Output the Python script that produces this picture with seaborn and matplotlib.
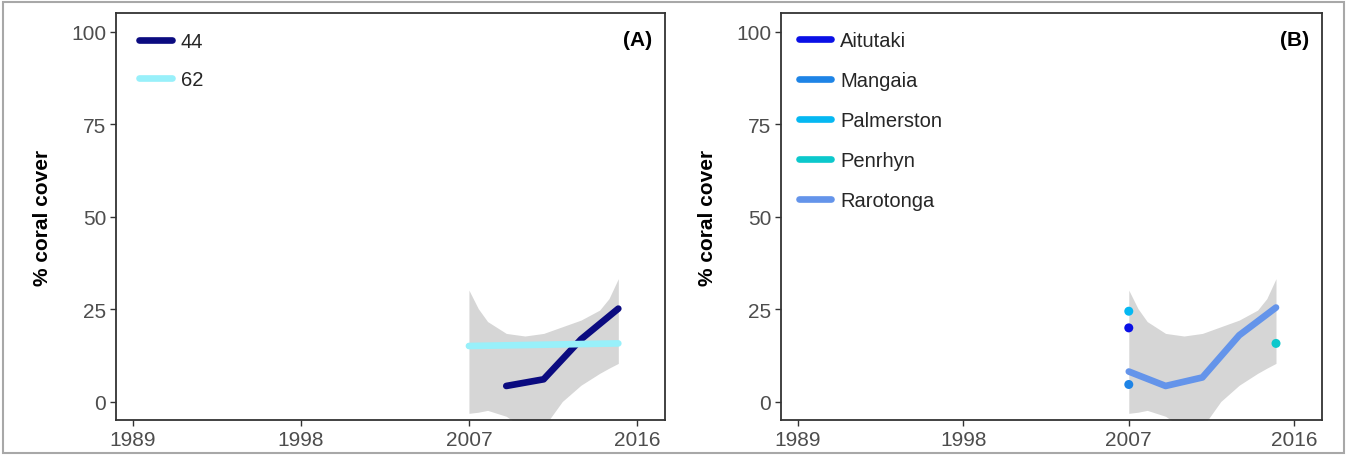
import matplotlib
matplotlib.use("Agg")
import matplotlib.pyplot as plt
from matplotlib.lines import Line2D
from matplotlib.patches import Rectangle
import pandas as pd
import seaborn as sns

# ---- data -------------------------------------------------------------
year_ticks = [1989, 1998, 2007, 2016]
cover_ticks = [0, 25, 50, 75, 100]

# panel A: coral cover by depth group
years_44 = [2009, 2011, 2013, 2015]
cover_44 = [4.2, 6.0, 16.8, 25.1]
years_62 = [2007, 2015]
cover_62 = [15.0, 15.7]

# panel B: coral cover by island
raro_years = [2007, 2009, 2011, 2013, 2015]
raro_cover = [8.1, 4.2, 6.5, 17.9, 25.4]
point_sites = ["Aitutaki", "Mangaia", "Palmerston", "Penrhyn"]
point_years = [2007, 2007, 2007, 2015]
point_cover = [19.9, 4.6, 24.4, 15.7]

# smoothed confidence band (shared by both panels)
band_years = [2007, 2007.5, 2008, 2009, 2010, 2011, 2012, 2013, 2014, 2014.5, 2015]
band_upper = [30.1, 25.1, 21.6, 18.4, 17.7, 18.4, 20.2, 22.0, 24.7, 27.8, 33.2]
band_lower = [-3.2, -2.9, -2.4, -4.0, -7.5, -7.0, 0.0, 4.4, 7.6, 9.0, 10.3]

group_labels = ["44", "62"]
group_colors = ["#0b0b80", "#98f0fa"]
site_labels = ["Aitutaki", "Mangaia", "Palmerston", "Penrhyn", "Rarotonga"]
site_colors = ["#0a10e6", "#1e84e6", "#05b8f2", "#0cc8cc", "#6494ea"]

# ---- style ------------------------------------------------------------
sns.set_theme(style="white")
plt.rcParams["font.family"] = ["Liberation Sans", "DejaVu Sans"]

W, H, DPI = 1346, 456, 100
fig = plt.figure(figsize=(W / DPI, H / DPI), dpi=DPI)

def fx(px):
    return px / W

def fy(py):
    return 1 - py / H

top_px, bot_px = 14, 421
axA = fig.add_axes([fx(116), fy(bot_px), fx(665 - 116), (bot_px - top_px) / H])
axB = fig.add_axes([fx(781), fy(bot_px), fx(1322 - 781), (bot_px - top_px) / H])

# outer frame around the whole figure
fig.patches.append(Rectangle((fx(2.5), fy(453.5)), fx(1341), (451) / H,
                             transform=fig.transFigure, fill=False,
                             edgecolor="#a8a8a8", linewidth=1.5, zorder=0))

LW = 4.8
band_color = "#d6d6d6"
TICK_FS = 15
LEG_FS = 14.5

def style_axes(ax, tag):
    ax.set_xlim(1988.1, 2017.5)
    ax.set_ylim(-5, 105)
    ax.set_xticks(year_ticks)
    ax.set_yticks(cover_ticks)
    ax.tick_params(axis="both", which="major", direction="out", length=4,
                   width=1, color="#333333", labelsize=TICK_FS,
                   labelcolor="#4d4d4d", bottom=True, left=True, pad=3)
    for s in ax.spines.values():
        s.set_visible(True)
        s.set_color("#333333")
        s.set_linewidth(1.3)
    ax.set_xlabel("")
    ax.set_ylabel("% coral cover", fontsize=15, fontweight="bold",
                  color="black", labelpad=14)
    ax.text(0.976, 0.936, tag, transform=ax.transAxes, ha="right",
            va="center", fontsize=15, fontweight="bold", color="black")
    ax.grid(False)

# ---- panel A ----------------------------------------------------------
df_a = pd.concat([
    pd.DataFrame({"year": years_44, "cover": cover_44, "group": "44"}),
    pd.DataFrame({"year": years_62, "cover": cover_62, "group": "62"}),
])
axA.fill_between(band_years, band_lower, band_upper, color=band_color,
                 linewidth=0, zorder=1)
sns.lineplot(data=df_a, x="year", y="cover", hue="group",
             hue_order=group_labels, palette=group_colors, linewidth=LW,
             solid_capstyle="round", legend=False, ax=axA, zorder=2)
style_axes(axA, "(A)")
handles_a = [Line2D([], [], color=c, linewidth=LW) for c in group_colors]
axA.legend(handles_a, group_labels, loc="upper left",
           bbox_to_anchor=(0.028, 0.973), frameon=False, fontsize=LEG_FS,
           handlelength=1.6, handletextpad=0.45, labelspacing=0.95,
           borderaxespad=0.0)

# ---- panel B ----------------------------------------------------------
df_line = pd.DataFrame({"year": raro_years, "cover": raro_cover,
                        "site": "Rarotonga"})
df_pts = pd.DataFrame({"year": point_years, "cover": point_cover,
                       "site": point_sites})
axB.fill_between(band_years, band_lower, band_upper, color=band_color,
                 linewidth=0, zorder=1)
sns.lineplot(data=df_line, x="year", y="cover", color=site_colors[4],
             linewidth=LW, solid_capstyle="round", legend=False, ax=axB,
             zorder=2)
sns.scatterplot(data=df_pts, x="year", y="cover", hue="site",
                hue_order=point_sites, palette=site_colors[:4], s=42,
                linewidth=0, legend=False, ax=axB, zorder=3)
style_axes(axB, "(B)")
handles_b = [Line2D([], [], color=c, linewidth=LW) for c in site_colors]
axB.legend(handles_b, site_labels, loc="upper left",
           bbox_to_anchor=(0.018, 0.975), frameon=False, fontsize=LEG_FS,
           handlelength=1.6, handletextpad=0.45, labelspacing=1.04,
           borderaxespad=0.0)

fig.savefig("out.png", dpi=DPI)
